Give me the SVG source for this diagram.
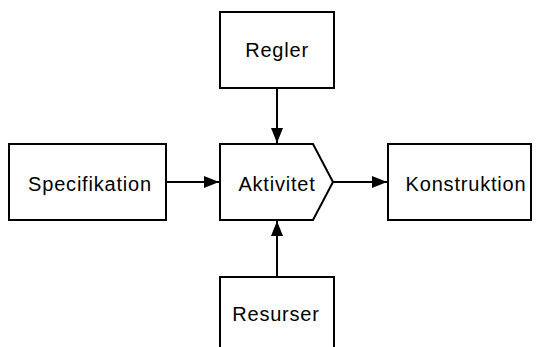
<svg xmlns="http://www.w3.org/2000/svg" width="536" height="347" viewBox="0 0 536 347">
<defs>
<style>
.box{fill:#fff;stroke:#000;stroke-width:2}
.lbl{font-family:"Liberation Sans",Arial,sans-serif;font-size:20px;letter-spacing:0.8px;text-anchor:middle;fill:#000}
.con{stroke:#000;stroke-width:2;fill:none}
</style>
<marker id="ah" viewBox="0 0 15 12" refX="15" refY="6" markerWidth="15" markerHeight="12" markerUnits="userSpaceOnUse" orient="auto">
<path d="M0,0 L15,6 L0,12 Z" fill="#000"/>
</marker>
</defs>
<rect width="536" height="347" fill="#fff"/>
<g id="regler"><rect class="box" x="220" y="12" width="114" height="76"/><text class="lbl" x="277" y="57">Regler</text></g>
<g id="specifikation"><rect class="box" x="9" y="144" width="157" height="76"/><text class="lbl" x="90" y="191">Specifikation</text></g>
<g id="aktivitet"><path class="box" d="M220,144 H313 L333,182 L313,220 H220 Z"/><text class="lbl" x="277" y="191">Aktivitet</text></g>
<g id="konstruktion"><rect class="box" x="388" y="144" width="143" height="76"/><text class="lbl" x="466" y="191">Konstruktion</text></g>
<g id="resurser"><rect class="box" x="220" y="277" width="114" height="80"/><text class="lbl" x="276" y="321">Resurser</text></g>
<g id="connectors">
<line class="con" x1="277" y1="88" x2="277" y2="143" marker-end="url(#ah)"/>
<line class="con" x1="277" y1="277" x2="277" y2="221" marker-end="url(#ah)"/>
<line class="con" x1="166" y1="182" x2="219" y2="182" marker-end="url(#ah)"/>
<line class="con" x1="333" y1="182" x2="387" y2="182" marker-end="url(#ah)"/>
</g>
</svg>
